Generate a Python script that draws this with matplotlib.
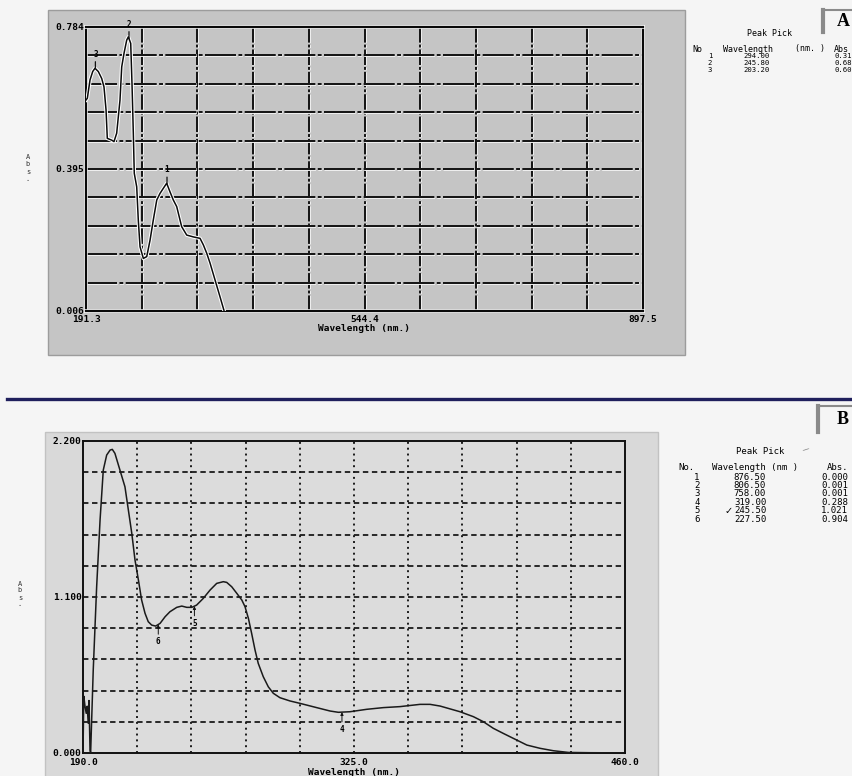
import numpy as np
import matplotlib
matplotlib.use("Agg")
import matplotlib.pyplot as plt
import matplotlib.patheffects as pe
from matplotlib.patches import Rectangle
from matplotlib.lines import Line2D
from matplotlib.transforms import Affine2D

W, H = 853, 776
MONO = "DejaVu Sans Mono"

# ---- panel A data ----
a_xmin, a_xmax = 191.3, 897.5
a_ymin, a_ymax = 0.006, 0.784
wl_a = [191.3, 193.0, 196.4, 199.8, 202.7, 206.9, 211.2, 214.1, 216.7, 218.3,
        223.9, 226.8, 230.2, 234.4, 236.6, 239.5, 242.9, 245.0, 248.0, 249.6,
        251.3, 252.5, 255.6, 257.6, 259.8, 264.0, 268.3, 272.5, 276.6, 281.0,
        285.1, 289.3, 293.6, 297.7, 302.0, 306.3, 312.6, 319.0, 327.4, 335.9,
        340.1, 344.4, 348.6, 354.9, 361.2, 366.3]
abs_a = [0.584, 0.589, 0.639, 0.662, 0.671, 0.662, 0.643, 0.620, 0.557, 0.479,
         0.474, 0.470, 0.493, 0.584, 0.675, 0.712, 0.748, 0.757, 0.739, 0.630,
         0.493, 0.383, 0.346, 0.255, 0.182, 0.150, 0.155, 0.200, 0.255, 0.310,
         0.328, 0.342, 0.356, 0.333, 0.310, 0.292, 0.237, 0.214, 0.209, 0.205,
         0.187, 0.164, 0.137, 0.091, 0.045, 0.007]
peak_no_a = ["1", "2", "3"]
peak_wl_a = [294.00, 245.80, 203.20]
peak_abs_a = ["0.31", "0.68", "0.60"]

# ---- panel B data ----
b_xmin, b_xmax = 190.0, 460.0
b_ymin, b_ymax = 0.0, 2.2
wl_b = [190.0, 190.4, 191.0, 191.6, 192.1, 192.6, 193.0, 193.5, 193.8,
        195.1, 196.8, 198.5, 200.1, 201.8, 203.5, 204.6, 205.9, 208.4, 210.9,
        212.6, 214.3, 215.9, 217.6, 219.2, 220.9, 222.5, 224.2, 226.2, 228.4,
        230.9, 233.3, 236.7, 239.2, 241.7, 244.2, 246.6, 249.9, 253.3, 256.6,
        259.9, 261.6, 264.1, 266.6, 269.1, 270.7, 272.4, 274.0, 275.7, 277.3,
        279.8, 282.3, 284.8, 288.1, 293.1, 298.1, 306.4, 313.1, 317.2, 323.0,
        331.3, 339.6, 347.9, 357.9, 362.9, 367.9, 377.8, 384.5, 389.4, 394.4,
        399.4, 404.4, 411.1, 417.7, 424.3, 431.8, 442.6, 458.4]
abs_b = [0.0, 0.40, 0.33, 0.28, 0.33, 0.21, 0.37, 0.02, 0.0,
         0.585, 1.172, 1.643, 1.995, 2.101, 2.136, 2.141, 2.113, 1.995, 1.877,
         1.713, 1.549, 1.361, 1.220, 1.079, 0.985, 0.926, 0.902, 0.895, 0.914,
         0.961, 0.996, 1.027, 1.036, 1.027, 1.027, 1.043, 1.090, 1.149, 1.196,
         1.208, 1.203, 1.172, 1.126, 1.079, 1.032, 0.949, 0.844, 0.726, 0.632,
         0.538, 0.467, 0.421, 0.390, 0.367, 0.350, 0.320, 0.296, 0.287, 0.291,
         0.308, 0.320, 0.327, 0.343, 0.343, 0.331, 0.291, 0.256, 0.221, 0.174,
         0.138, 0.103, 0.056, 0.033, 0.016, 0.004, 0.002, 0.001]
peak_no_b = ["1", "2", "3", "4", "5", "6"]
peak_wl_b = [876.50, 806.50, 758.00, 319.00, 245.50, 227.50]
peak_abs_b = ["0.000", "0.001", "0.001", "0.288", "1.021", "0.904"]
marked_b = [3, 4, 5]   # peaks that fall inside the plotted range

fig = plt.figure(figsize=(W / 100, H / 100), dpi=100, facecolor="#f5f5f5")
px = Affine2D().scale(1 / W, -1 / H).translate(0, 1) + fig.transFigure


def rect(x0, y0, x1, y1):
    return [x0 / W, 1 - y1 / H, (x1 - x0) / W, (y1 - y0) / H]


halo = [pe.withStroke(linewidth=2.6, foreground="white")]
halo_thin = [pe.withStroke(linewidth=2.1, foreground="#f0f0f0")]

# grey boxes behind the two printouts
fig.patches.append(Rectangle((48, 10), 637, 345, transform=px, fc="#c5c5c5",
                             ec="#9c9c9c", lw=1.0, zorder=-5))
fig.patches.append(Rectangle((45, 432), 613, 350, transform=px, fc="#d9d9d9",
                             ec="#c2c2c2", lw=1.0, zorder=-5))

# ================= panel A =================
ax = fig.add_axes(rect(86, 27, 643, 311))
ax.set_facecolor("#c5c5c5")
ax.set_xlim(a_xmin, a_xmax)
ax.set_ylim(a_ymin, a_ymax)
xt = np.linspace(a_xmin, a_xmax, 11)
yt = np.linspace(a_ymin, a_ymax, 11)
for v in xt[1:-1]:
    ax.axvline(v, color="#111111", lw=1.4, ls=(0, (8, 1, 1.5, 1)),
               path_effects=halo_thin, zorder=1)
for v in yt[1:-1]:
    ax.axhline(v, color="#111111", lw=1.4, ls=(0, (16, 1.2, 2, 1.2)),
               path_effects=halo_thin, zorder=1)
ax.plot(wl_a, abs_a, color="#0a0a0a", lw=1.1, path_effects=halo, zorder=3)
for n, w in zip(peak_no_a, peak_wl_a):
    yv = np.interp(w, wl_a, abs_a)
    ax.annotate(n, xy=(w, yv), xytext=(0, 7), textcoords="offset points",
                ha="center", va="bottom", fontsize=5.5, family=MONO,
                fontweight="bold",
                arrowprops=dict(arrowstyle="-", lw=0.9, color="#111111",
                                shrinkA=0, shrinkB=0))
ax.set_xticks([a_xmin, (a_xmin + a_xmax) / 2, a_xmax])
ax.set_xticklabels(["191.3", "544.4", "897.5"])
ax.set_yticks([a_ymin, (a_ymin + a_ymax) / 2, a_ymax])
ax.set_yticklabels(["0.006", "0.395", "0.784"])
ax.tick_params(length=0, labelsize=6.8, pad=1)
ax.tick_params(axis="x", pad=3)
for lab in ax.get_xticklabels() + ax.get_yticklabels():
    lab.set_family(MONO)
    lab.set_fontweight("bold")
ax.set_xlabel("Wavelength (nm.)", family=MONO, fontweight="bold",
              fontsize=6.8, labelpad=0)
for s in ax.spines.values():
    s.set_linewidth(1.6)
    s.set_color("#0a0a0a")
    s.set_path_effects(halo)
fig.text(28, 168, "A\nb\ns\n.", transform=px, family=MONO, fontsize=5,
         ha="center", va="center", linespacing=1.25, color="#333333")

# table A
TA = 6
fig.text(770, 33, "Peak Pick", transform=px, family=MONO, fontsize=TA,
         ha="center", va="center")
fig.text(692, 49, "No", transform=px, family=MONO, fontsize=TA, va="center")
fig.text(723, 49, "Wavelength", transform=px, family=MONO, fontsize=TA,
         va="center")
fig.text(795, 49, "(nm. )", transform=px, family=MONO, fontsize=TA,
         va="center")
fig.text(834, 49, "Abs", transform=px, family=MONO, fontsize=TA, va="center")
for i, (n, w, a) in enumerate(zip(peak_no_a, peak_wl_a, peak_abs_a)):
    yy = 56 + i * 7
    fig.text(710, yy, n, transform=px, family=MONO, fontsize=5.2,
             ha="center", va="center")
    fig.text(757, yy, f"{w:.2f}", transform=px, family=MONO, fontsize=5.2,
             ha="center", va="center")
    fig.text(835, yy, a, transform=px, family=MONO, fontsize=5.2,
             va="center")

# ================= panel B =================
bx = fig.add_axes(rect(83, 441, 625, 753))
bx.set_facecolor("#dcdcdc")
bx.set_xlim(b_xmin, b_xmax)
bx.set_ylim(b_ymin, b_ymax)
xt = np.linspace(b_xmin, b_xmax, 11)
yt = np.linspace(b_ymin, b_ymax, 11)
for v in xt[1:-1]:
    bx.axvline(v, color="#1a1a1a", lw=1.4, ls=(0, (1, 2)), zorder=1)
for v in yt[1:-1]:
    bx.axhline(v, color="#1a1a1a", lw=1.3, ls=(0, (3, 2)), zorder=1)
bx.plot(wl_b, abs_b, color="#1a1a1a", lw=1.1, zorder=3)
for i in marked_b:
    w = peak_wl_b[i]
    yv = np.interp(w, wl_b, abs_b)
    bx.annotate(peak_no_b[i], xy=(w, yv), xytext=(0, -9),
                textcoords="offset points", ha="center", va="top",
                fontsize=5.5, family=MONO, fontweight="bold",
                arrowprops=dict(arrowstyle="-|>,head_width=0.15,head_length=0.3",
                                lw=0.7, color="#111111", shrinkA=0, shrinkB=0))
bx.set_xticks([b_xmin, (b_xmin + b_xmax) / 2, b_xmax])
bx.set_xticklabels(["190.0", "325.0", "460.0"])
bx.set_yticks([b_ymin, (b_ymin + b_ymax) / 2, b_ymax])
bx.set_yticklabels(["0.000", "1.100", "2.200"])
bx.tick_params(length=0, labelsize=6.8, pad=1)
bx.tick_params(axis="x", pad=3.5)
for lab in bx.get_xticklabels() + bx.get_yticklabels():
    lab.set_family(MONO)
    lab.set_fontweight("bold")
bx.set_xlabel("Wavelength (nm.)", family=MONO, fontweight="bold",
              fontsize=6.8, labelpad=1)
for s in bx.spines.values():
    s.set_linewidth(1.4)
    s.set_color("#111111")
fig.text(20, 594, "A\nb\ns\n.", transform=px, family=MONO, fontsize=5,
         ha="center", va="center", linespacing=1.2, color="#333333")

# table B
fig.text(760, 452, "Peak Pick", transform=px, family=MONO, fontsize=6.5,
         ha="center", va="center")
fig.text(806, 449, "\u2014", transform=px, fontsize=5, rotation=18,
         ha="center", va="center", color="#444444")
fig.text(678, 468, "No.", transform=px, family=MONO, fontsize=6.5, va="center")
fig.text(712, 468, "Wavelength (nm )", transform=px, family=MONO,
         fontsize=6.5, va="center")
fig.text(827, 468, "Abs.", transform=px, family=MONO, fontsize=6.5,
         va="center")
for i, (n, w, a) in enumerate(zip(peak_no_b, peak_wl_b, peak_abs_b)):
    yy = 477 + i * 8.4
    fig.text(697, yy, n, transform=px, family=MONO, fontsize=6.5,
             ha="center", va="center")
    fig.text(750, yy, f"{w:.2f}", transform=px, family=MONO, fontsize=6.5,
             ha="center", va="center")
    fig.text(821, yy, a, transform=px, family=MONO, fontsize=6.5, va="center")
fig.text(729, 477 + 4 * 8.4, "\u2713", transform=px, family="DejaVu Sans",
         fontsize=7, ha="center", va="center")

# panel tags A / B
for tag, x0, y0, y1 in [("A", 823, 10, 32), ("B", 818, 406, 432)]:
    fig.add_artist(Line2D([x0, x0], [y0, y1], transform=px, color="#8a8a8a",
                          lw=3))
    fig.add_artist(Line2D([x0, W], [y0, y0], transform=px, color="#8a8a8a",
                          lw=1.5))
    fig.text(843, (y0 + y1) / 2 + 1, tag, transform=px, family="Liberation Serif",
             fontweight="bold", fontsize=13, ha="center", va="center")

# separator between the printouts
fig.add_artist(Line2D([7, W], [399, 399], transform=px, color="#1f1f5c", lw=2.4))

fig.savefig("out.png", dpi=100, facecolor=fig.get_facecolor())
